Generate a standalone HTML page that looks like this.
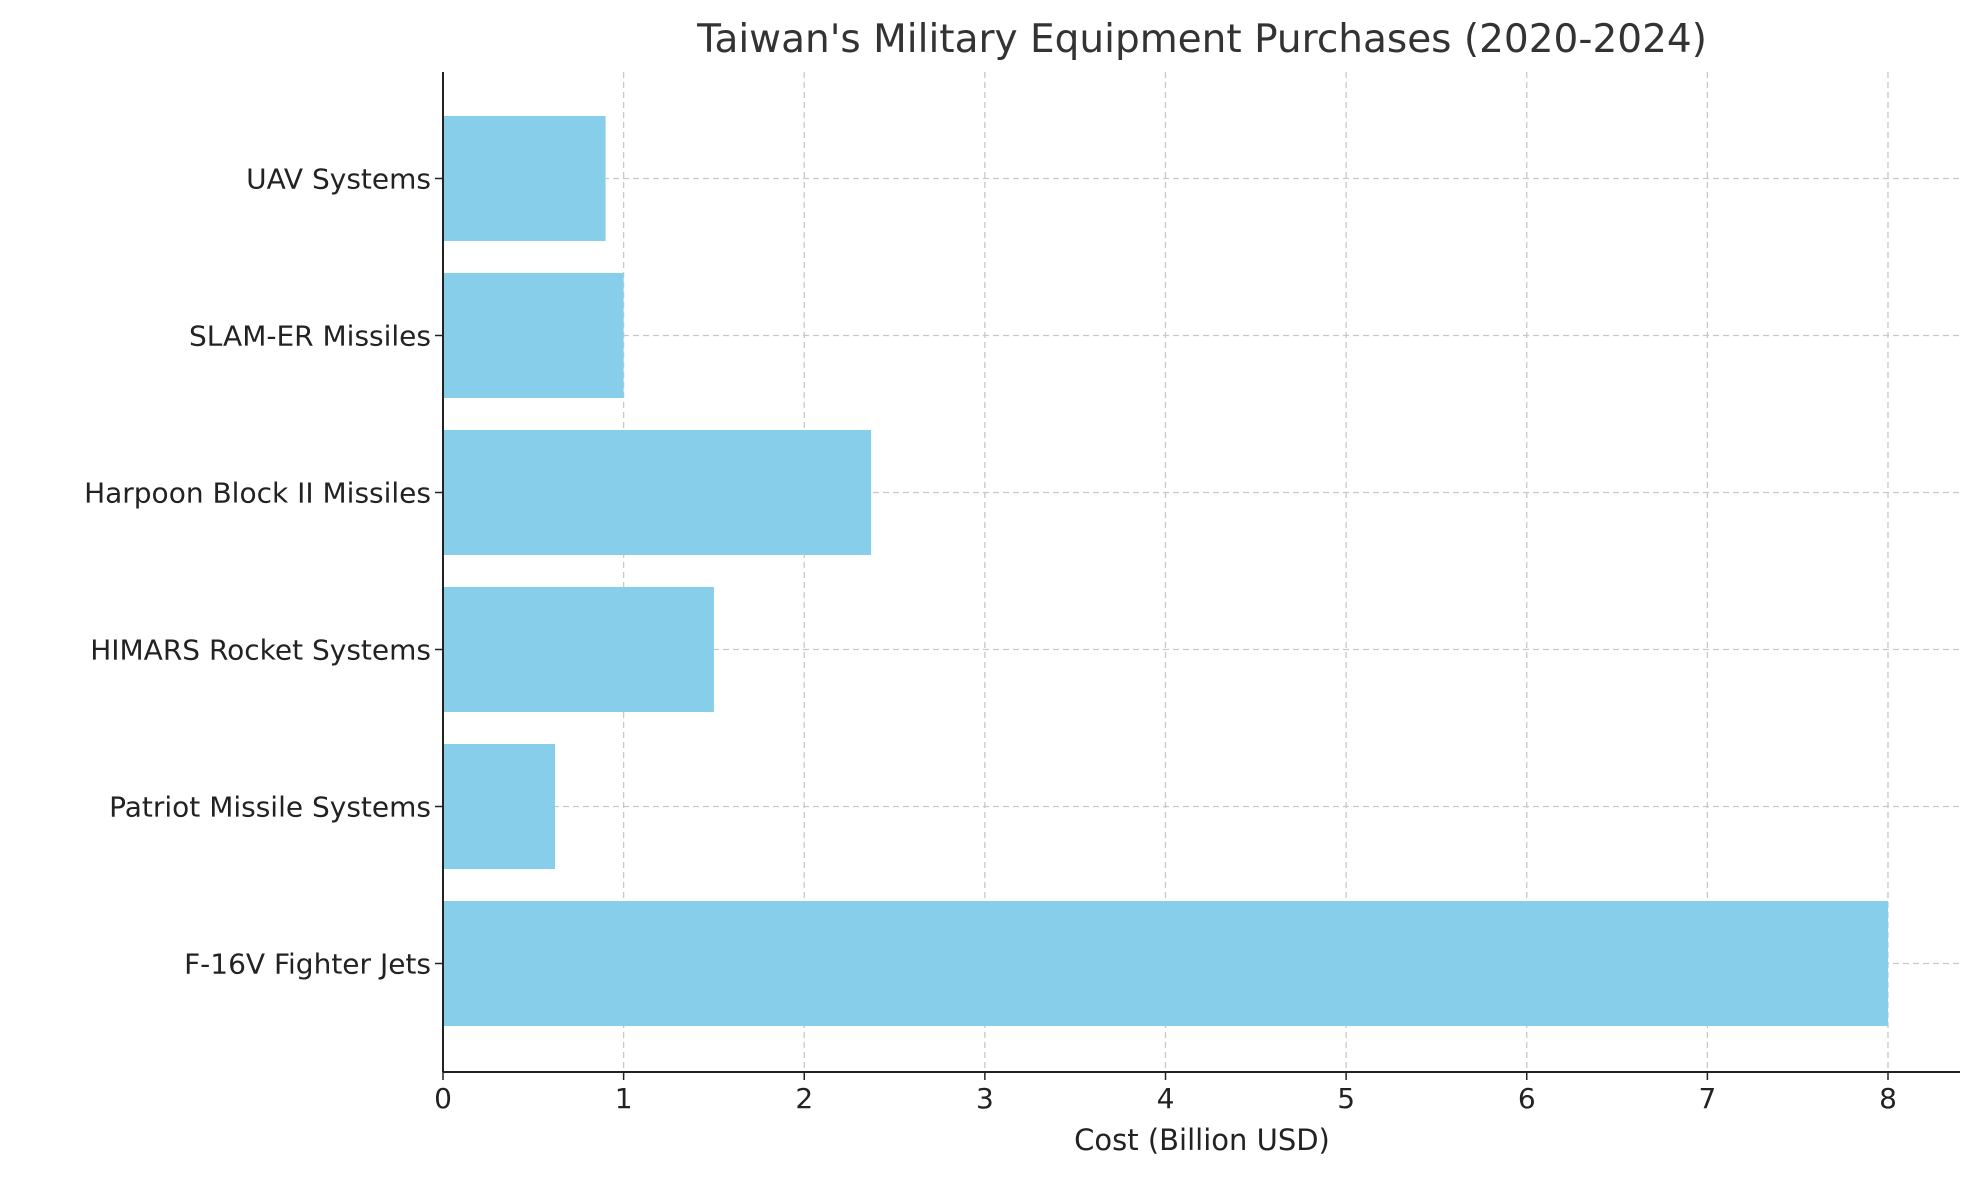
<!DOCTYPE html>
<html><head><meta charset="utf-8"><style>html,body{margin:0;padding:0;background:#fff}svg{display:block;font-family:"DejaVu Sans","Liberation Sans",sans-serif}</style></head>
<body>
<svg id="chart" width="1980" height="1180" viewBox="0 0 1980 1180" xmlns="http://www.w3.org/2000/svg">
<text x="1202" y="52" text-anchor="middle" font-size="39" fill="#333">Taiwan's Military Equipment Purchases (2020-2024)</text>
<g id="grid"></g><g id="bars"></g><g id="axes"></g>
<text x="1202" y="1150" text-anchor="middle" font-size="29" fill="#222">Cost (Billion USD)</text>
</svg>
<script>
const categories=["F-16V Fighter Jets","Patriot Missile Systems","HIMARS Rocket Systems","Harpoon Block II Missiles","SLAM-ER Missiles","UAV Systems"];
const values=[8.0,0.62,1.5,2.37,1.0,0.9];
const xTicks=[0,1,2,3,4,5,6,7,8];
const NS="http://www.w3.org/2000/svg";
const L=443,R=1960,T=72,B=1072;
const xs=v=>L+v*(1888-L)/8;
const yc=i=>963.5-i*157;
const bh=125;
function mk(t,a,p){const e=document.createElementNS(NS,t);for(const k in a)e.setAttribute(k,a[k]);p.appendChild(e);return e;}
const grid=document.getElementById('grid'),bars=document.getElementById('bars'),axes=document.getElementById('axes');
xTicks.forEach(t=>{const g=mk('line',{x1:xs(t),x2:xs(t),y1:T,y2:B,stroke:'#c8c8c8','stroke-dasharray':'6,4','stroke-width':1.3},grid);


const tk=mk('line',{x1:xs(t),x2:xs(t),y1:B,y2:B+8,stroke:'#222','stroke-width':1.5},axes);


const tl=mk('text',{x:xs(t),y:B+36,'text-anchor':'middle','font-size':28,fill:'#222'},axes);tl.textContent=t;

});
categories.forEach((c,i)=>{const g=mk('line',{x1:L,x2:R,y1:yc(i),y2:yc(i),stroke:'#c8c8c8','stroke-dasharray':'6,4','stroke-width':1.3},grid);


const b=mk('rect',{x:L,y:yc(i)-bh/2,width:xs(values[i])-L,height:bh,fill:'#87ceeb'},bars);


const tk=mk('line',{x1:L-8,x2:L,y1:yc(i),y2:yc(i),stroke:'#222','stroke-width':1.5},axes);


const tl=mk('text',{x:L-12,y:yc(i)+10,'text-anchor':'end','font-size':28,fill:'#222'},axes);tl.textContent=c;

});
const ya=mk('line',{x1:L,x2:L,y1:T,y2:B,stroke:'#222','stroke-width':2},axes);


const xa=mk('line',{x1:L,x2:R,y1:B,y2:B,stroke:'#222','stroke-width':2},axes);


</script>
</body></html>
